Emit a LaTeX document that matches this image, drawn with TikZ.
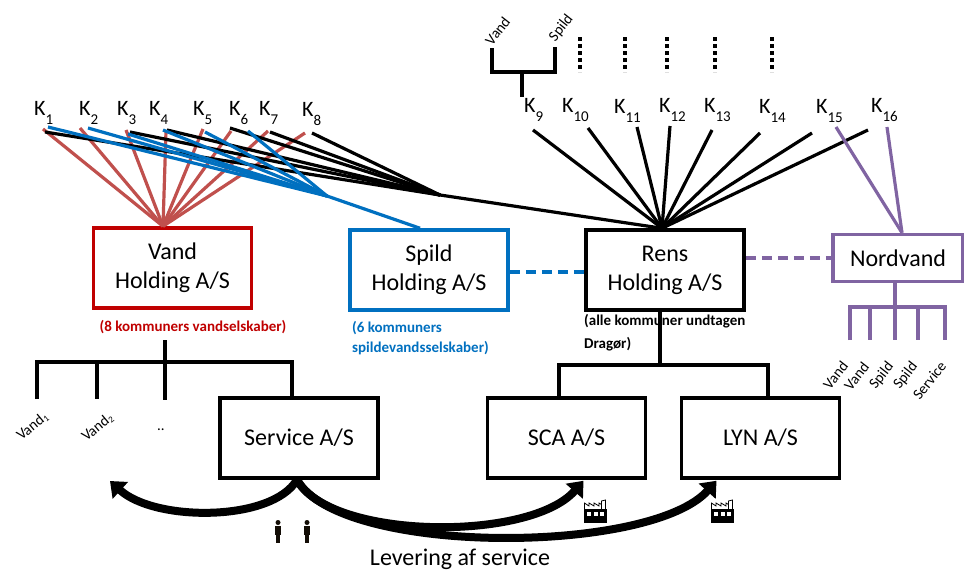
\documentclass[tikz,border=0pt]{standalone}
\usepackage{fontspec}
\setmainfont{Carlito}
\usetikzlibrary{arrows.meta,calc}
\definecolor{vred}{HTML}{C00000}
\definecolor{lred}{HTML}{C0504D}
\definecolor{sblue}{HTML}{0070C0}
\definecolor{npurp}{HTML}{8064A2}
\newcommand{\Kl}[1]{K\raisebox{-9pt}{\fontsize{15}{15}\selectfont #1}}
\newcommand{\myfactory}[2]{%
  \begin{scope}[shift={(#1,#2)}]
    \fill[black] (0,9) rectangle (23,23);
    \fill[white] (3,12) rectangle (7,16);
    \fill[white] (9.5,12) rectangle (13.5,16);
    \fill[white] (16,12) rectangle (20,16);
    \draw[line width=0.8pt] (0.4,9) -- (0.4,3) -- (5,6) -- (5,3) -- (10,6) -- (10,3) -- (15,6) -- (15,3) -- (17.5,4.5);
    \draw[line width=0.8pt] (17.5,9) -- (17.5,1) -- (21.5,0) -- (21.5,9);
  \end{scope}}
\newcommand{\myperson}[2]{%
  \begin{scope}[shift={(#1,#2)}]
    \fill[black!90!brown] (0,2.5) circle (2.5);
    \fill[black!90!brown] (-3,6) rectangle (3,15);
    \fill[black!90!brown] (-2.2,15) rectangle (2.2,23);
  \end{scope}}
\begin{document}
\begin{tikzpicture}[x=1pt,y=-1pt,
  every node/.style={inner sep=0pt},
  hbox/.style={draw, line width=3.5pt, minimum width=158pt, minimum height=80pt, align=center, font=\fontsize{24}{29}\selectfont},
  klab/.style={anchor=base west, font=\fontsize{22}{22}\selectfont},
  redln/.style={draw=lred, line width=3.2pt},
  blueln/.style={draw=sblue, line width=3.2pt},
  blackln/.style={draw=black, line width=3.2pt},
  purpln/.style={draw=npurp, line width=3.2pt},
  treeln/.style={line width=3.2pt},
  note/.style={font=\bfseries\fontsize{15}{20}\selectfont, align=left},
  rlab/.style={font=\fontsize{15}{15}\selectfont},
  dotln/.style={line width=3.5pt, dash pattern=on 4pt off 3pt},
  bigarrow/.style={line width=8pt, -{Triangle[length=14pt,width=22pt]}},
]
\fill[white] (0,0) rectangle (964,570);
\useasboundingbox (0,0) rectangle (964,570);

% boxes
\node[hbox, draw=vred] (Vand) at (172.5,268) {Vand\\Holding A/S};
\node[hbox, draw=sblue] (Spild) at (429,270) {Spild\\Holding A/S};
\node[hbox] (Rens) at (665,270) {Rens\\Holding A/S};
\node[hbox, draw=npurp, minimum width=130pt, minimum height=47pt] (Nord) at (898,258) {Nordvand};
\node[hbox] (Service) at (299,438) {Service A/S};
\node[hbox] (SCA) at (566.5,438) {SCA A/S};
\node[hbox] (LYN) at (760.5,438) {LYN A/S};

% notes
\node[note, text=vred] (nvand) at (193,327) {(8 kommuners vandselskaber)};
\node[note, text=sblue, anchor=north west] (nspild) at (352,321) {(6 kommuners\\spildevandsselskaber)};
\node[note, anchor=north west, font=\bfseries\fontsize{15}{23}\selectfont] (nrens) at (584,314) {(alle kommuner undtagen\\Dragør)};

% K labels
\node[klab] (K1) at (34,115) {\Kl{1}};
\node[klab] (K2) at (79,115) {\Kl{2}};
\node[klab] (K3) at (117,115) {\Kl{3}};
\node[klab] (K4) at (149,115) {\Kl{4}};
\node[klab] (K5) at (193,115) {\Kl{5}};
\node[klab] (K6) at (229,115) {\Kl{6}};
\node[klab] (K7) at (259,115) {\Kl{7}};
\node[klab] (K8) at (302,116) {\Kl{8}};
\node[klab] (K9) at (524,112) {\Kl{9}};
\node[klab] (K10) at (562,112) {\Kl{10}};
\node[klab] (K11) at (614,113) {\Kl{11}};
\node[klab] (K12) at (659,112) {\Kl{12}};
\node[klab] (K13) at (704,112) {\Kl{13}};
\node[klab] (K14) at (759,113) {\Kl{14}};
\node[klab] (K15) at (816,113) {\Kl{15}};
\node[klab] (K16) at (871,112) {\Kl{16}};

% hubs
\coordinate (vhub) at ($(Vand.north)+(-9.5,0)$);
\coordinate (bhub) at (327,196);
\coordinate (shub) at ($(Spild.north)+(-9,0)$);
\coordinate (khub) at (440,195);
\coordinate (rhub) at ($(Rens.north)+(-3,0)$);
\coordinate (nhub) at ($(Nord.north)+(4,0)$);

% red lines
\foreach \x/\y in {43/129, 80/128, 126/130, 166/131, 203/129, 231/131, 268/131, 305/133}
  \draw[redln] (\x,\y) -- (vhub);
% black lines
\foreach \x/\y in {45/132, 130/132, 167/130, 230/128, 270/132, 312/133}
  \draw[blackln] (\x,\y) -- (khub);
\draw[blackln] (khub) -- (rhub);
\foreach \x/\y in {533/130, 588/128, 637/127, 670/126, 712/130, 760/133, 812/133, 868/130}
  \draw[blackln] (\x,\y) -- (rhub);
% blue lines
\foreach \x/\y in {48/127, 88/128, 128/134, 163/130, 205/132, 248/131}
  \draw[blueln] (\x,\y) -- (bhub);
\draw[blueln] (bhub) -- (shub);
% purple lines
\draw[purpln] (836,127) -- (nhub);
\draw[purpln] (887,127) -- (nhub);

% dashed links
\draw[sblue, line width=3.5pt, dash pattern=on 10pt off 6pt] (Spild.east |- 0,272) -- (Rens.west |- 0,272);
\draw[npurp, line width=3.5pt, dash pattern=on 10pt off 6pt] (Rens.east |- Nord.west) -- (Nord.west);

% top Vand/Spild tree
\draw[treeln] (492,48) -- (492,72) -- (555,72) -- (555,47);
\draw[treeln] (522,72) -- (522,97);
\node[rlab, rotate=52, anchor=west] (tv) at (488,43) {Vand};
\node[rlab, rotate=52, anchor=west] (ts) at (552,40) {Spild};
\foreach \x in {580,625,667,715,772}
  \draw[dotln] (\x,37) -- (\x,72);

% Vand tree
\coordinate (vt) at (165,362);
\draw[treeln] (165,340) -- (165,400);
\draw[treeln] (37,399) -- (37,362) -- (292,362) -- ([xshift=-7pt]Service.north);
\draw[treeln] (97,362) -- (97,399);
\node[rlab, rotate=40, anchor=east] (v1) at (46,415) {Vand\raisebox{-2pt}{\fontsize{9}{9}\selectfont 1}};
\node[rlab, rotate=40, anchor=east] (v2) at (111,416) {Vand\raisebox{-2pt}{\fontsize{9}{9}\selectfont 2}};
\node[rlab] (vd) at (161,430) {..};

% Rens tree
\coordinate (rt) at (660,365);
\draw[treeln] (Rens.south -| rt) -- (rt);
\draw[treeln] ([xshift=-7.5pt]SCA.north) |- (rt) -| ([xshift=7.5pt]LYN.north);

% Nordvand tree
\draw[treeln, npurp] ([xshift=-3pt]Nord.south) -- (895,307);
\draw[treeln, npurp] (850,340) -- (850,307) -- (945,307) -- (945,340);
\foreach \x in {870,895,918}
  \draw[treeln, npurp] (\x,307) -- (\x,340);
\node[rlab, rotate=52, anchor=east] (n1) at (845,363) {Vand};
\node[rlab, rotate=52, anchor=east] (n2) at (866,364) {Vand};
\node[rlab, rotate=52, anchor=east] (n3) at (891,364) {Spild};
\node[rlab, rotate=52, anchor=east] (n4) at (915,364) {Spild};
\node[rlab, rotate=52, anchor=east] (n5) at (943,363) {Service};

% service arrows
\coordinate (tipL) at (110,481);
\coordinate (tipS) at ($(SCA.south)+(17,1)$);
\coordinate (tipY) at ($(LYN.south)+(-44,1)$);
\draw[bigarrow] ([xshift=-2pt]Service.south) .. controls (272,522) and (155,522) .. (tipL);
\draw[bigarrow] ([xshift=-2pt]Service.south) .. controls (330,540) and (530,542) .. (tipS);
\draw[bigarrow] ([xshift=-2pt]Service.south) .. controls (340,556) and (650,555) .. (tipY);

\myperson{278}{520}
\myperson{307}{520}
\myfactory{584}{500}
\myfactory{711}{500}

\node[font=\fontsize{24}{24}\selectfont] (lev) at (460,559) {Levering af service};
\end{tikzpicture}
\end{document}
